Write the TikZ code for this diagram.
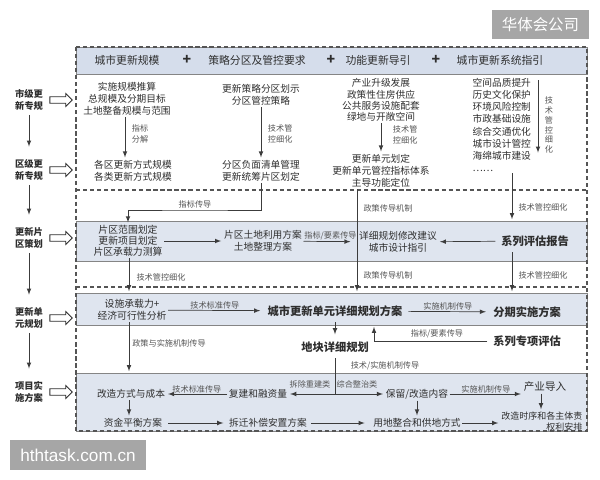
\documentclass[tikz,border=0pt]{standalone}
\usepackage{fontspec}
\setmainfont{Noto Sans CJK SC}
\newfontfamily\wmfont{Liberation Sans}
\usepackage{tikz}
\usetikzlibrary{shapes.geometric,shapes.arrows,arrows,fit,positioning}
\usepackage{xcolor}
\definecolor{ink}{HTML}{2E2E2E}
\definecolor{lblgray}{HTML}{555555}
\definecolor{wire}{HTML}{3C3C3C}
\definecolor{bandfill}{HTML}{DFE5EF}
\definecolor{hdfill}{HTML}{D5DDEB}
\definecolor{bandline}{HTML}{858585}
\definecolor{framegray}{HTML}{555555}
\definecolor{wmgray}{HTML}{A6A6A6}

\begin{document}
\begin{tikzpicture} [
  x = 0.025cm, y = -0.025cm,
  every node/.style = { inner sep = 1pt, text = ink },
  txt/.style = { align = center, font = \fontsize{6.9}{8.5}\selectfont },
  hdtxt/.style = { font = \fontsize{7.7}{9}\selectfont },
  plussign/.style = { font = \fontsize{10}{10}\selectfont\bfseries },
  bigtxt/.style = { font = \fontsize{8}{9.5}\selectfont\bfseries, inner sep = 4pt },
  lbl/.style = { align = left, font = \fontsize{5.8}{7.8}\selectfont, text = lblgray, inner sep = 0.5pt },
  side/.style = { align = center, font = \fontsize{6.6}{8.5}\selectfont\bfseries },
  band/.style = { draw = bandline, fill = bandfill, inner sep = 0, line width = 0.6pt },
  harrow/.style = { single arrow, draw = ink, fill = white, line width = 0.6pt, inner sep = 0.07cm,
    minimum height = 0.56cm, single arrow head extend = 0.08cm, single arrow head indent = 0pt },
  conn/.style = { -latex, draw = wire, line width = 0.5pt, shorten >=1pt },
  outerframe/.style = { draw = framegray, line width = 0.8pt, dash pattern = on 3pt off 2pt },
  wm/.style = { fill = wmgray, text = white, inner sep = 0 }
  ]

  \useasboundingbox (0,0) rectangle (600,480);

  % bands and frame
  \node[band, fill = hdfill, fit = {(76,47) (587,74)}] (hd) {};
  \node[band, fit = {(76,221) (587,261)}] (bd2) {};
  \node[band, fit = {(76,293) (587,325)}] (bd3) {};
  \node[band, fit = {(76,373) (587,431)}] (bd4) {};
  \draw[outerframe] (76,47) rectangle (587,431);
  \draw[outerframe] (76,190) -- (587,190) (76,287) -- (587,287);

  % header
  \node[hdtxt] (h1) at (127,60) {城市更新规模};
  \node[plussign] (p1) at (187,60) {+};
  \node[hdtxt] (h2) at (257,60) {策略分区及管控要求};
  \node[plussign] (p2) at (331,60) {+};
  \node[hdtxt] (h3) at (378,60) {功能更新导引};
  \node[plussign] (p3) at (436,60) {+};
  \node[hdtxt] (h4) at (500,60) {城市更新系统指引};

  % left column
  \node[side] (L1) at (29,100) {市级更\\新专规};
  \node[side] (L2) at (29,170) {区级更\\新专规};
  \node[side] (L3) at (29,238) {更新片\\区策划};
  \node[side] (L4) at (29,318) {更新单\\元规划};
  \node[side] (L5) at (29,392) {项目实\\施方案};
  \foreach \n in {1,...,5}
    \node[harrow, right = 0.12cm of L\n] (A\n) {};
  \foreach \u/\v in {1/2,2/3,3/4,4/5}
    \draw[conn, shorten <=2pt, shorten >=8pt] (L\u) -- (L\v);

  \coordinate (xa) at (125,0);
  \coordinate (xb) at (129,0);
  \coordinate (xm) at (357,0);
  \coordinate (xs) at (374,0);
  \coordinate (xr) at (512,0);
  \coordinate (xt) at (541,0);
  \coordinate (t1) at (538,80);
  \coordinate (t2) at (538,154);
  \coordinate (k1) at (195,210);

  % city / district level
  \node[txt] (a1) at (127,99) {实施规模推算\\总规模及分期目标\\土地整备规模与范围};
  \node[txt] (a2) at (133,171) {各区更新方式规模\\各类更新方式规模};
  \node[txt] (b1) at (261,95) {更新策略分区划示\\分区管控策略};
  \node[txt] (b2) at (261,171) {分区负面清单管理\\更新统筹片区划定};
  \node[txt, font = \fontsize{6.9}{8}\selectfont] (c1) at (381,100) {产业升级发展\\政策性住房供应\\公共服务设施配套\\绿地与开敞空间};
  \node[txt] (c2) at (381,171) {更新单元划定\\更新单元管控指标体系\\主导功能定位};
  \node[txt, align = left, anchor = west, font = \fontsize{6.9}{8.6}\selectfont] (d1) at (471,125)
    {空间品质提升\\历史文化保护\\环境风险控制\\市政基础设施\\综合交通优化\\城市设计管控\\海绵城市建设\\……};

  \draw[conn] (xa |- a1.south) -- (xa |- a2.north);
  \node[lbl, anchor = west] at (131,134) {指标\\分解};
  \draw[conn] (b1) -- (b2);
  \node[lbl, anchor = west] at (267,134) {技术管\\控细化};
  \draw[conn] (c1) -- (c2);
  \node[lbl, anchor = west] at (392,135) {技术管\\控细化};
  \draw[conn] (t1) -- (t2);
  \node[lbl, align = center, font = \fontsize{5.8}{7}\selectfont] at (549,125) {技\\术\\管\\控\\细\\化};

  % district planning band
  \node[txt, font = \fontsize{7}{7.8}\selectfont] (e1) at (128,241) {片区范围划定\\更新项目划定\\片区承载力测算};
  \node[txt] (e2) at (263,241) {片区土地利用方案\\土地整理方案};
  \node[txt] (e3) at (398,242) {详细规划修改建议\\城市设计指引};
  \node[bigtxt] (e4) at (535,241) {系列评估报告};
  \draw[conn] (e1) -- (e2);
  \draw[conn, shorten >=5pt] (e2) -- node[lbl, above] {指标/要素传导} (e3);
  \draw[conn] (e4) -- (e3);

  \draw[conn] (b2.south) |- (k1) -| (e1.north);
  \node[lbl] at (195,204) {指标传导};

  \draw[conn] (xm |- c2.south) -- (xm |- bd3.north);
  \node[lbl] at (388,208) {政策传导机制};
  \node[lbl] at (388,275) {政策传导机制};
  \draw[conn] (xr |- d1.south) -- (xr |- bd2.north);
  \draw[conn] (xr |- e4.south) -- (xr |- bd3.north);
  \node[lbl] at (543,207) {技术管控细化};
  \node[lbl] at (543,275) {技术管控细化};
  \draw[conn] (xb |- e1.south) -- (xb |- bd3.north);
  \node[lbl] at (161,277) {技术管控细化};

  % unit planning band
  \node[txt, font = \fontsize{7}{8.5}\selectfont] (f1) at (132,310) {设施承载力+\\经济可行性分析};
  \node[bigtxt] (f2) at (335,311) {城市更新单元详细规划方案};
  \node[bigtxt] (f3) at (527,312) {分期实施方案};
  \draw[conn] (f1) -- node[lbl, above] {技术标准传导} (f2);
  \draw[conn] (f2) -- node[lbl, above] {实施机制传导} (f3);

  \node[bigtxt] (g) at (335,347) {地块详细规划};
  \node[bigtxt] (h) at (527,341) {系列专项评估};
  \draw[conn] (f2) -- (g);
  \draw[conn] (h.west) -| (xs |- bd3.south);
  \node[lbl] at (437,334) {指标/要素传导};
  \draw[conn] (xb |- f1.south) -- (xb |- bd4.north);
  \node[lbl] at (169,343) {政策与实施机制传导};

  % project band
  \node[txt] (i1) at (131,394) {改造方式与成本};
  \node[txt] (i2) at (258,394) {复建和融资量};
  \node[txt] (i3) at (417,394) {保留/改造内容};
  \node[txt, font = \fontsize{7.5}{9}\selectfont] (i4) at (545,387) {产业导入};
  \node[txt] (j1) at (133,423) {资金平衡方案};
  \node[txt] (j2) at (268,423) {拆迁补偿安置方案};
  \node[txt] (j3) at (417,423) {用地整合和供地方式};
  \node[txt, align = right, anchor = east, font = \fontsize{6.4}{7.8}\selectfont] (j4) at (584,422) {改造时序和各主体责\\权利安排};

  \draw[conn] (g.south) |- (i2.east);
  \draw[conn] (g.south) |- (i3.west);
  \node[lbl] at (310,384) {拆除重建类};
  \node[lbl] at (357,384) {综合整治类};
  \node[lbl] at (385,366) {技术/实施机制传导};
  \draw[conn] (i2) -- node[lbl, above] {技术标准传导} (i1);
  \draw[conn] (xb |- i1.south) -- (xb |- j1.north);
  \draw[conn] (i3) -- (j3);
  \draw[conn] (i3.east) -- node[lbl, above] {实施机制传导} (i3.east -| i4.west);
  \draw[conn] (xt |- i4.south) -- (xt |- j4.north);
  \draw[conn, shorten <=3pt, shorten >=3pt] (j1) -- (j2);
  \draw[conn, shorten <=2pt, shorten >=5pt] (j2) -- (j3);
  \draw[conn] (j3.east) -- (j3.east -| j4.west);

  % marks
  \node[wm, minimum width = 2.425cm, minimum height = 0.725cm, font = \fontsize{11}{11}\selectfont] (w1) at (540.5,24.5) {华体会公司};
  \node[wm, minimum width = 3.4cm, minimum height = 0.75cm, font = \wmfont\fontsize{12.2}{12}\selectfont] (w2) at (78,455) {hthtask.com.cn};
\end{tikzpicture}
\end{document}
